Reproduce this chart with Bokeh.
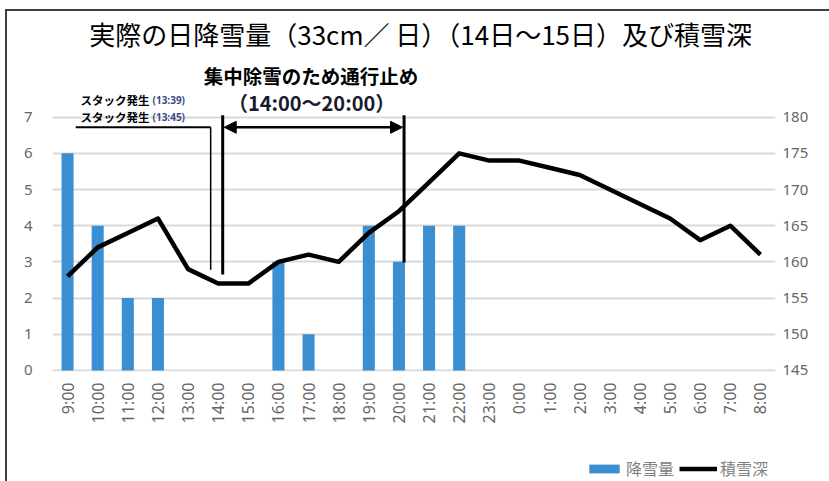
import math
from bokeh.plotting import figure
from bokeh.layouts import column
from bokeh.models import (Range1d, LinearAxis, FixedTicker, Label, Arrow, NormalHead,
                          Legend, LegendItem)
from bokeh.embed import file_html
from bokeh.resources import INLINE

# ---- data ----
hours = ["9:00", "10:00", "11:00", "12:00", "13:00", "14:00", "15:00", "16:00",
         "17:00", "18:00", "19:00", "20:00", "21:00", "22:00", "23:00", "0:00",
         "1:00", "2:00", "3:00", "4:00", "5:00", "6:00", "7:00", "8:00"]
snowfall = [6, 4, 2, 2, 0, 0, 0, 3, 1, 0, 4, 3, 4, 4, 0, 0, 0, 0, 0, 0, 0, 0, 0, 0]
snow_depth = [158, 162, 164, 166, 159, 157, 157, 160, 161, 160, 164, 167, 171, 175,
              174, 174, 173, 172, 170, 168, 166, 163, 165, 161]
left_ticks = [0, 1, 2, 3, 4, 5, 6, 7]
right_ticks = [145, 150, 155, 160, 165, 170, 175, 180]
series_names = ["降雪量", "積雪深"]

title_text = "実際の日降雪量（33cm／ 日）（14日〜15日）及び積雪深"
closure_text = "集中除雪のため通行止め"
closure_period = "（14:00〜20:00）"
stack_label = "スタック発生"
stack_times = ["(13:39)", "(13:45)"]

# annotation positions (hour index units / left-axis units)
stack_x = [4.75, 5.15]
closure_end_x = 11.17

JP = "Noto Sans CJK JP"
GRAY = "#666666"
BLUE = "#3A8FD2"

idx = list(range(len(hours)))

p = figure(width=822, height=435, output_backend="svg", toolbar_location=None, title=None,
           x_range=Range1d(-0.5, len(hours) - 0.5), y_range=Range1d(-0.03, 9.92),
           min_border_left=45, min_border_right=54, min_border_top=0,
           min_border_bottom=75)
p.outline_line_color = None
p.background_fill_color = "white"

p.extra_y_ranges = {"depth": Range1d(144.85, 194.6)}

# bars
bars = p.vbar(x=idx, top=snowfall, width=0.4, fill_color=BLUE, line_color=None)
# line
line = p.line(x=idx, y=snow_depth, y_range_name="depth", line_color="black",
              line_width=4.5, line_join="round")

# axes
p.xaxis.ticker = FixedTicker(ticks=idx)
p.xaxis.major_label_overrides = {i: h for i, h in zip(idx, hours)}
p.xaxis.major_label_orientation = math.pi / 2
p.xaxis.axis_line_color = None
p.xaxis.major_tick_line_color = None
p.xaxis.minor_tick_line_color = None
p.xaxis.major_label_text_font = "Noto Sans"
p.xaxis.major_label_text_font_size = "16px"
p.xaxis.major_label_text_color = GRAY
p.xaxis.major_label_standoff = 5

p.yaxis.ticker = FixedTicker(ticks=left_ticks)
p.yaxis.axis_line_color = None
p.yaxis.major_tick_line_color = None
p.yaxis.minor_tick_line_color = None
p.yaxis.major_label_text_font = "Noto Sans"
p.yaxis.major_label_text_font_size = "15px"
p.yaxis.major_label_text_color = GRAY
p.yaxis.major_label_standoff = 14

ax2 = LinearAxis(y_range_name="depth", ticker=FixedTicker(ticks=right_ticks))
ax2.axis_line_color = None
ax2.major_tick_line_color = None
ax2.minor_tick_line_color = None
ax2.major_label_text_font = "Noto Sans"
ax2.major_label_text_font_size = "15px"
ax2.major_label_text_color = GRAY
ax2.major_label_standoff = 1
p.add_layout(ax2, "right")

p.xgrid.grid_line_color = None
p.ygrid.ticker = FixedTicker(ticks=left_ticks)
p.ygrid.grid_line_color = "#d9d9d9"
p.ygrid.grid_line_width = 2

# title
p.add_layout(Label(x=11.72, y=9.3, text=title_text, text_font=JP, text_font_size="26px",
                   text_align="center", text_baseline="middle", text_color="black"))

# closure annotation
p.add_layout(Label(x=8.08, y=8.16, text=closure_text, text_font=JP, text_font_size="19.5px",
                   text_font_style="bold", text_align="center", text_baseline="middle",
                   text_color="black"))
p.add_layout(Label(x=8.1, y=7.41, text=closure_period, text_font=JP, text_font_size="20px",
                   text_font_style="bold", text_align="center", text_baseline="middle",
                   text_color="#1a1a2e"))

# stack annotations
for yv, t in zip([7.47, 7.0], stack_times):
    p.add_layout(Label(x=0.43, y=yv, text=stack_label, text_font=JP, text_font_size="11.5px",
                       text_font_style="bold", text_align="left", text_baseline="middle",
                       text_color="black"))
    p.add_layout(Label(x=2.82, y=yv, text=t, text_font="Noto Sans", text_font_size="10px",
                       text_font_style="bold", text_align="left", text_baseline="middle",
                       text_color="#3b4a8a"))

# leader lines
p.add_layout(Arrow(x_start=0.27, y_start=6.72, x_end=stack_x[0], y_end=6.72, end=None,
                   line_width=2, line_color="black"))
p.add_layout(Arrow(x_start=stack_x[0], y_start=6.72, x_end=stack_x[0], y_end=2.78, end=None,
                   line_width=1.5, line_color="black"))
p.add_layout(Arrow(x_start=stack_x[1], y_start=7.05, x_end=stack_x[1], y_end=2.65, end=None,
                   line_width=3, line_color="black"))
p.add_layout(Arrow(x_start=closure_end_x, y_start=7.05, x_end=closure_end_x, y_end=2.98,
                   end=None, line_width=3, line_color="black"))
p.add_layout(Arrow(x_start=stack_x[1] + 0.05, y_start=6.72, x_end=closure_end_x - 0.05,
                   y_end=6.72, line_width=2.5, line_color="black",
                   start=NormalHead(size=12, fill_color="black", line_color="black"),
                   end=NormalHead(size=12, fill_color="black", line_color="black")))

# legend strip below the chart (hidden copies of the two series supply the swatches)
lg = figure(width=822, height=35, output_backend="svg", toolbar_location=None, title=None,
            x_range=Range1d(-0.5, len(hours) - 0.5), y_range=Range1d(0, 1),
            min_border_left=0, min_border_right=0, min_border_top=0, min_border_bottom=0)
lg.axis.visible = False
lg.grid.visible = False
lg.outline_line_color = None
bar_proxy = lg.vbar(x=idx, top=snowfall, width=0.4, fill_color=BLUE, line_color=None,
                    visible=False)
line_proxy = lg.line(x=idx, y=snow_depth, line_color="black", line_width=4.5, visible=False)
legend = Legend(items=[LegendItem(label=series_names[0], renderers=[bar_proxy]),
                       LegendItem(label=series_names[1], renderers=[line_proxy])],
                orientation="horizontal", location=(533, 1),
                label_text_font=JP, label_text_font_size="16px", label_text_color="#808080",
                glyph_width=38, glyph_height=11, spacing=5, label_standoff=3,
                padding=0, margin=0, border_line_color=None, background_fill_alpha=0,
                inactive_fill_alpha=0)
lg.add_layout(legend)

layout = column(p, lg, styles={"border-left": "2px solid #404040",
                               "border-top": "2px solid #404040",
                               "margin-left": "5px", "margin-top": "9px"})
open("out.html", "w").write(file_html(layout, INLINE))
